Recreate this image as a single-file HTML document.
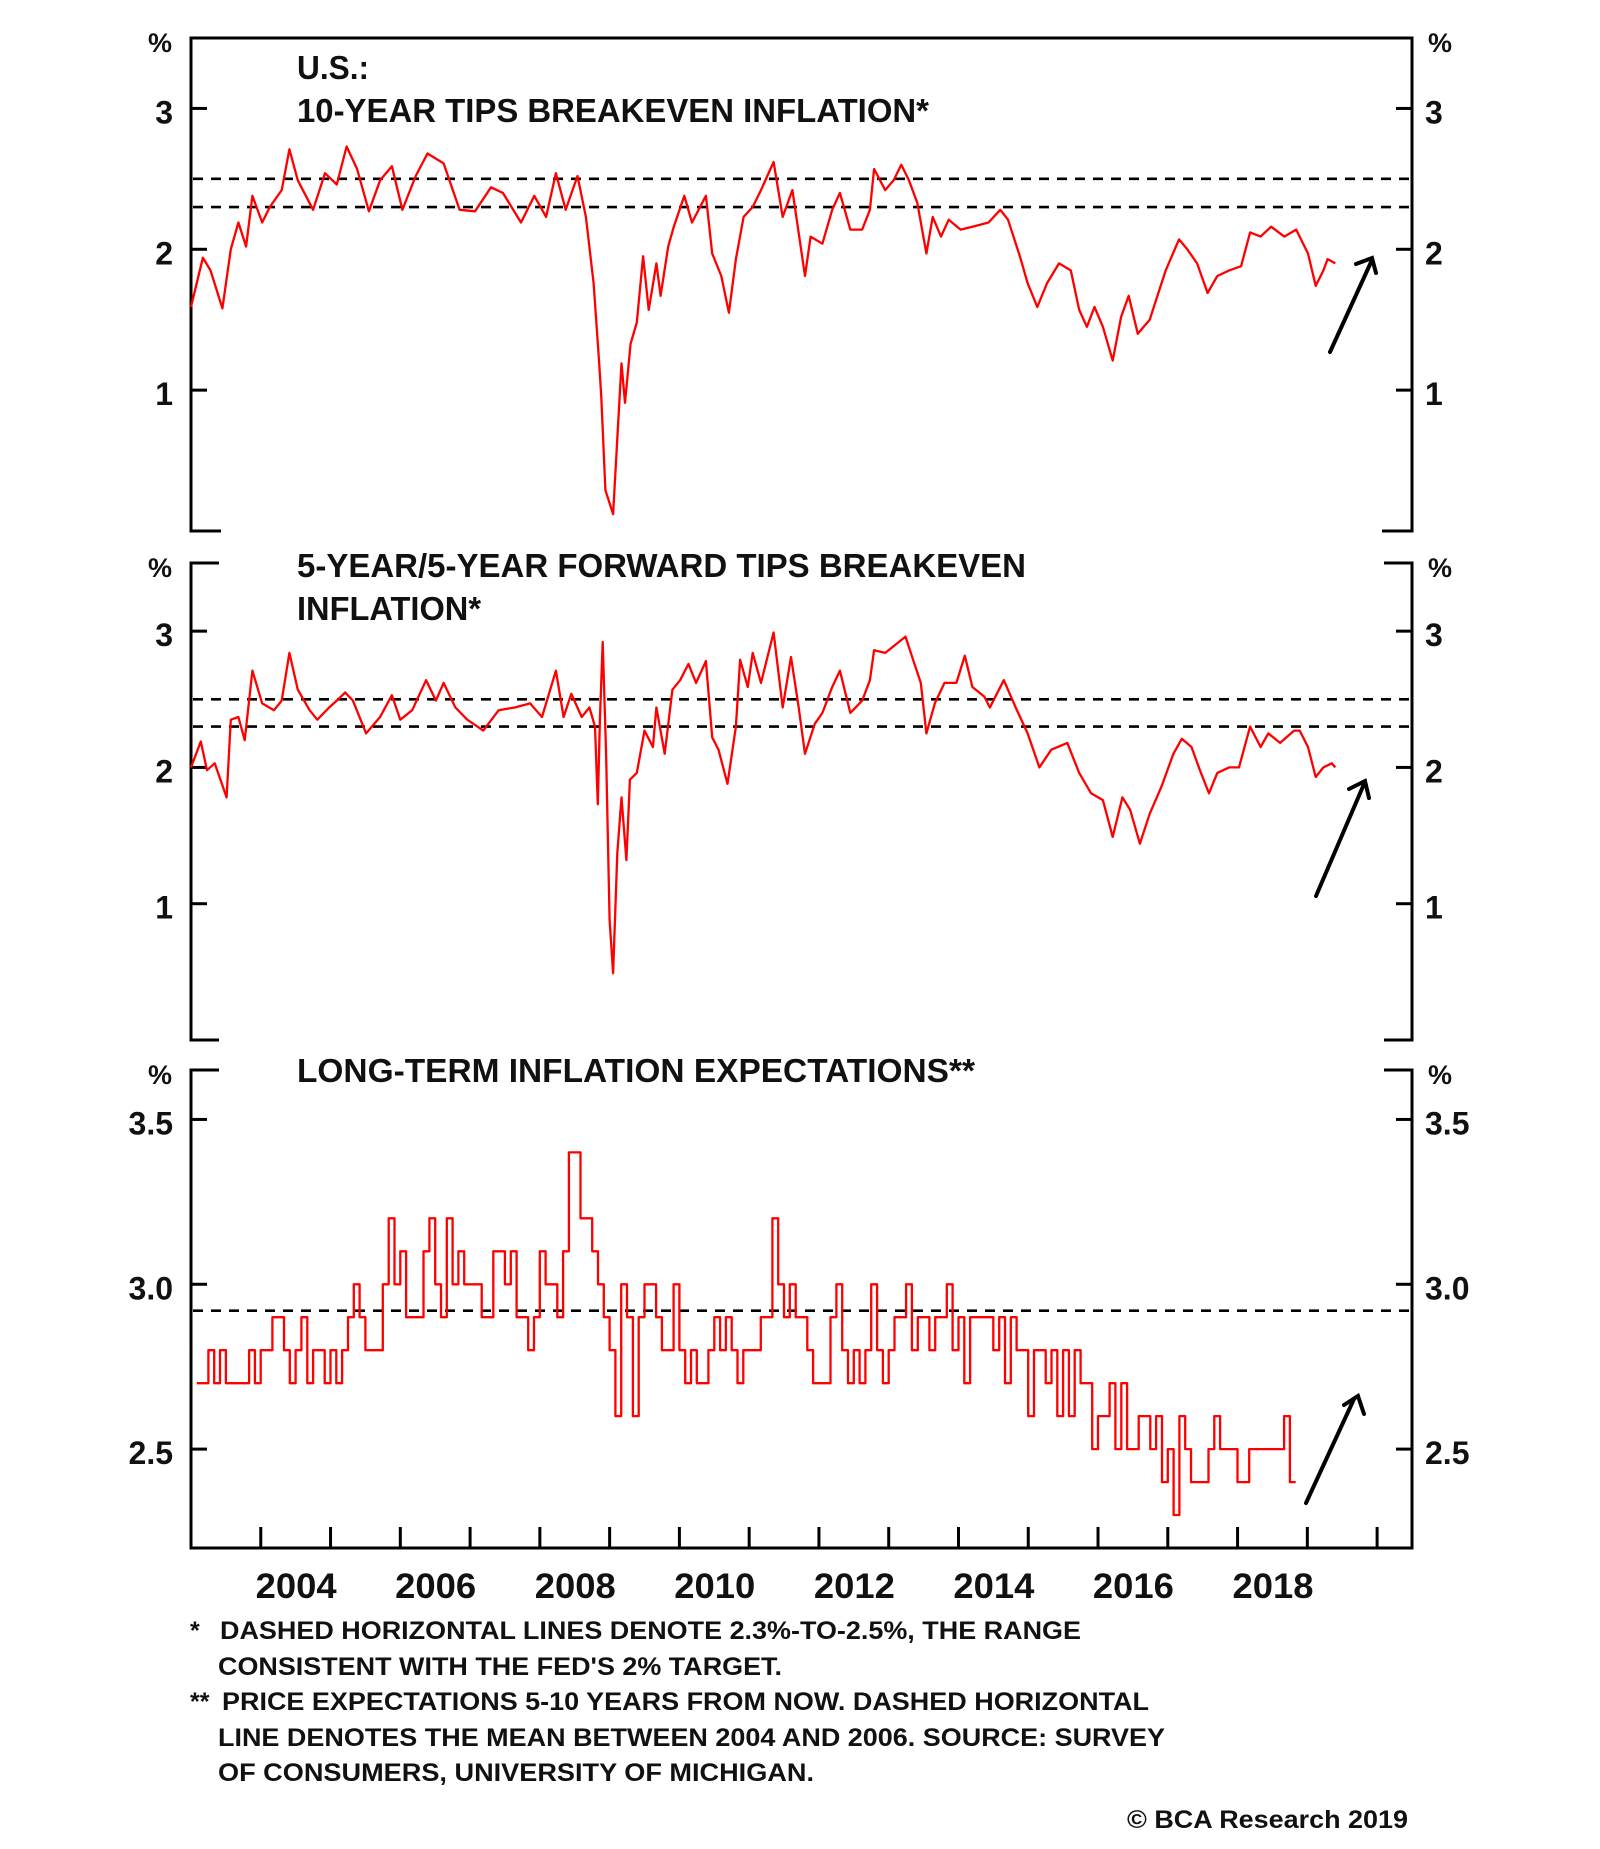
<!DOCTYPE html>
<html><head><meta charset="utf-8"><style>
html,body{margin:0;padding:0;background:#fff;}
svg{display:block;}
text{font-family:"Liberation Sans",Arial,sans-serif;font-weight:bold;fill:#111;}
</style></head>
<body>
<svg id="chart" width="1600" height="1849" viewBox="0 0 1600 1849" xmlns="http://www.w3.org/2000/svg">
<rect x="0" y="0" width="1600" height="1849" fill="#fff"/>
<g id="frames" stroke="#000" stroke-width="3" fill="none">
<path d="M221,531 H191 V38 H1412 V531 H1382"/>
<path d="M219,563 H191 V1040 H219 M1384,563 H1412 V1040 H1384"/>
<path d="M219,1070 H191 V1548 H1412 V1070 H1384"/>
</g>
<g id="ticks" stroke="#000" stroke-width="3"></g>
<g id="dashes" stroke="#000" stroke-width="2.6" stroke-dasharray="10 8"></g>
<g id="series" fill="none" stroke="#ff0000" stroke-width="2.3" stroke-linejoin="round"></g>
<g id="labels"></g>

<text x="297" y="79" font-size="33" textLength="72" lengthAdjust="spacingAndGlyphs">U.S.:</text>
<text x="297" y="122" font-size="33" textLength="632" lengthAdjust="spacingAndGlyphs">10-YEAR TIPS BREAKEVEN INFLATION*</text>
<text x="297" y="577" font-size="33" textLength="729" lengthAdjust="spacingAndGlyphs">5-YEAR/5-YEAR FORWARD TIPS BREAKEVEN</text>
<text x="297" y="620" font-size="33" textLength="184" lengthAdjust="spacingAndGlyphs">INFLATION*</text>
<text x="297" y="1082" font-size="33" textLength="678" lengthAdjust="spacingAndGlyphs">LONG-TERM INFLATION EXPECTATIONS**</text>

<g stroke="#000" stroke-width="4" fill="none" stroke-linecap="round">
<path d="M1330,352 L1372,260 M1356,264 L1372,258 L1376,273"/>
<path d="M1316,896 L1364,784 M1349,789 L1365,781 L1369,798"/>
<path d="M1306,1503 L1354,1399 M1344,1405 L1358,1396 L1364,1414"/>
</g>

<g font-size="25">
<text x="190" y="1639">*</text>
<text x="220" y="1639" textLength="861" lengthAdjust="spacingAndGlyphs">DASHED HORIZONTAL LINES DENOTE 2.3%-TO-2.5%, THE RANGE</text>
<text x="218" y="1675" textLength="564" lengthAdjust="spacingAndGlyphs">CONSISTENT WITH THE FED'S 2% TARGET.</text>
<text x="190" y="1710">**</text>
<text x="222" y="1710" textLength="927" lengthAdjust="spacingAndGlyphs">PRICE EXPECTATIONS 5-10 YEARS FROM NOW. DASHED HORIZONTAL</text>
<text x="218" y="1746" textLength="947" lengthAdjust="spacingAndGlyphs">LINE DENOTES THE MEAN BETWEEN 2004 AND 2006. SOURCE: SURVEY</text>
<text x="218" y="1781" textLength="596" lengthAdjust="spacingAndGlyphs">OF CONSUMERS, UNIVERSITY OF MICHIGAN.</text>
<text x="1127" y="1828" textLength="281" lengthAdjust="spacingAndGlyphs">© BCA Research 2019</text>
</g>
</svg>
<script>
const p1Dates=[2003.00,2003.17,2003.28,2003.45,2003.57,2003.68,2003.79,2003.88,2004.02,2004.13,2004.30,2004.41,2004.53,2004.75,2004.92,2005.09,2005.23,2005.38,2005.55,2005.71,2005.88,2006.03,2006.22,2006.39,2006.62,2006.85,2007.07,2007.30,2007.47,2007.73,2007.92,2008.09,2008.23,2008.37,2008.54,2008.66,2008.77,2008.85,2008.88,2008.94,2009.05,2009.17,2009.22,2009.30,2009.39,2009.48,2009.56,2009.67,2009.73,2009.84,2009.92,2010.07,2010.18,2010.38,2010.47,2010.60,2010.71,2010.81,2010.92,2011.05,2011.17,2011.35,2011.48,2011.62,2011.80,2011.88,2012.05,2012.19,2012.30,2012.45,2012.62,2012.73,2012.79,2012.95,2013.07,2013.18,2013.29,2013.41,2013.54,2013.63,2013.75,2013.86,2014.03,2014.20,2014.43,2014.60,2014.71,2014.88,2014.99,2015.13,2015.27,2015.44,2015.61,2015.73,2015.84,2015.95,2016.07,2016.21,2016.33,2016.44,2016.57,2016.74,2016.97,2017.16,2017.28,2017.42,2017.57,2017.71,2017.88,2018.05,2018.18,2018.33,2018.48,2018.67,2018.84,2019.01,2019.12,2019.23,2019.29,2019.40];
const p1Values=[1.59,1.94,1.85,1.58,2.00,2.19,2.02,2.38,2.19,2.30,2.42,2.71,2.49,2.28,2.54,2.46,2.73,2.57,2.27,2.49,2.59,2.28,2.52,2.68,2.61,2.28,2.27,2.44,2.40,2.19,2.38,2.23,2.54,2.28,2.52,2.23,1.76,1.19,0.95,0.29,0.12,1.19,0.91,1.33,1.48,1.95,1.57,1.90,1.67,2.02,2.16,2.38,2.19,2.38,1.97,1.81,1.55,1.93,2.23,2.30,2.42,2.62,2.23,2.42,1.81,2.09,2.04,2.28,2.40,2.14,2.14,2.28,2.57,2.42,2.49,2.60,2.49,2.33,1.97,2.23,2.09,2.21,2.14,2.16,2.19,2.28,2.21,1.95,1.76,1.59,1.76,1.90,1.85,1.57,1.45,1.59,1.45,1.21,1.52,1.67,1.40,1.50,1.85,2.07,2.00,1.90,1.69,1.81,1.85,1.88,2.12,2.09,2.16,2.09,2.14,1.97,1.74,1.85,1.93,1.90];
const p2Dates=[2003.00,2003.14,2003.23,2003.34,2003.51,2003.57,2003.68,2003.77,2003.88,2004.02,2004.19,2004.30,2004.41,2004.53,2004.70,2004.81,2004.98,2005.09,2005.21,2005.32,2005.51,2005.71,2005.88,2006.00,2006.17,2006.37,2006.51,2006.62,2006.79,2006.96,2007.19,2007.41,2007.64,2007.86,2008.03,2008.23,2008.34,2008.45,2008.60,2008.71,2008.79,2008.83,2008.86,2008.90,2008.95,2009.00,2009.05,2009.11,2009.17,2009.24,2009.29,2009.39,2009.50,2009.62,2009.67,2009.79,2009.90,2010.01,2010.13,2010.24,2010.38,2010.47,2010.56,2010.69,2010.81,2010.87,2010.98,2011.05,2011.17,2011.35,2011.48,2011.60,2011.71,2011.80,2011.94,2012.05,2012.19,2012.30,2012.45,2012.62,2012.73,2012.79,2012.95,2013.12,2013.24,2013.35,2013.46,2013.54,2013.66,2013.80,2013.97,2014.09,2014.20,2014.37,2014.45,2014.65,2014.82,2014.99,2015.16,2015.33,2015.56,2015.73,2015.90,2016.07,2016.21,2016.35,2016.46,2016.60,2016.74,2016.91,2017.08,2017.20,2017.34,2017.46,2017.59,2017.71,2017.88,2018.02,2018.18,2018.33,2018.44,2018.61,2018.81,2018.89,2019.01,2019.12,2019.23,2019.35,2019.40];
const p2Values=[2.00,2.19,1.98,2.03,1.78,2.35,2.37,2.20,2.71,2.47,2.42,2.49,2.84,2.57,2.42,2.35,2.44,2.49,2.55,2.49,2.25,2.37,2.53,2.35,2.42,2.64,2.49,2.62,2.44,2.35,2.27,2.42,2.44,2.47,2.37,2.71,2.37,2.54,2.37,2.44,2.30,1.73,2.35,2.92,2.10,0.88,0.49,1.37,1.78,1.32,1.91,1.96,2.27,2.15,2.44,2.10,2.57,2.64,2.76,2.62,2.78,2.22,2.13,1.88,2.30,2.79,2.59,2.84,2.62,2.99,2.44,2.81,2.44,2.10,2.32,2.40,2.59,2.71,2.40,2.49,2.64,2.86,2.84,2.91,2.96,2.79,2.62,2.25,2.47,2.62,2.62,2.82,2.59,2.52,2.44,2.64,2.44,2.25,2.00,2.13,2.18,1.96,1.81,1.76,1.49,1.78,1.69,1.44,1.66,1.86,2.10,2.21,2.15,1.98,1.81,1.96,2.00,2.00,2.30,2.15,2.25,2.18,2.27,2.27,2.15,1.93,2.00,2.03,2.00];
const p3Start=2003.083;
const p3Monthly=[2.7,2.7,2.8,2.7,2.8,2.7,2.7,2.7,2.7,2.8,2.7,2.8,
2.8,2.9,2.9,2.8,2.7,2.8,2.9,2.7,2.8,2.8,2.7,2.8,
2.7,2.8,2.9,3.0,2.9,2.8,2.8,2.8,3.0,3.2,3.0,3.1,
2.9,2.9,2.9,3.1,3.2,3.0,2.9,3.2,3.0,3.1,3.0,3.0,
3.0,2.9,2.9,3.1,3.1,3.0,3.1,2.9,2.9,2.8,2.9,3.1,
3.0,3.0,2.9,3.1,3.4,3.4,3.2,3.2,3.1,3.0,2.9,2.8,
2.6,3.0,2.9,2.6,2.9,3.0,3.0,2.9,2.8,2.8,3.0,2.8,
2.7,2.8,2.7,2.7,2.8,2.9,2.8,2.9,2.8,2.7,2.8,2.8,
2.8,2.9,2.9,3.2,3.0,2.9,3.0,2.9,2.9,2.8,2.7,2.7,
2.7,2.9,3.0,2.8,2.7,2.8,2.7,2.8,3.0,2.8,2.7,2.8,
2.9,2.9,3.0,2.8,2.9,2.9,2.8,2.9,2.9,3.0,2.8,2.9,
2.7,2.9,2.9,2.9,2.9,2.8,2.9,2.7,2.9,2.8,2.8,2.6,
2.8,2.8,2.7,2.8,2.6,2.8,2.6,2.8,2.7,2.7,2.5,2.6,
2.6,2.7,2.5,2.7,2.5,2.5,2.6,2.6,2.5,2.6,2.4,2.5,
2.3,2.6,2.5,2.4,2.4,2.4,2.5,2.6,2.5,2.5,2.5,2.4,
2.4,2.5,2.5,2.5,2.5,2.5,2.5,2.6,2.4];
const yTicks12=[1,2,3];
const yTicks3=[2.5,3.0,3.5];
const yTickText3=["2.5","3.0","3.5"];
const targetBand=[2.3,2.5];
const michiganMean=[2.92];
const yearTicks=[2004,2005,2006,2007,2008,2009,2010,2011,2012,2013,2014,2015,2016,2017,2018,2019,2020];
const yearLabels=[2004,2006,2008,2010,2012,2014,2016,2018];

const NS="http://www.w3.org/2000/svg";
const X0=191,X1=1412,T0=2003,T1=2020.5;
function xs(t){return X0+(t-T0)*(X1-X0)/(T1-T0);}
const panels=[
 {top:38,bottom:531,min:0,max:3.5},
 {top:563,bottom:1040,min:0,max:3.5},
 {top:1070,bottom:1548,min:2.2,max:3.65}];
function ys(p,v){return p.bottom-(v-p.min)/(p.max-p.min)*(p.bottom-p.top);}
function mk(tag,attrs,parent){const e=document.createElementNS(NS,tag);for(const k in attrs)e.setAttribute(k,attrs[k]);parent.appendChild(e);return e;}
const gT=document.getElementById('ticks'),gD=document.getElementById('dashes'),gS=document.getElementById('series'),gL=document.getElementById('labels');

function yAxis(pi,ticks,texts){
 const p=panels[pi];
 ticks.forEach((v,i)=>{
  const y=ys(p,v);
  const l=mk('line',{x1:X0,x2:X0+16,y1:y,y2:y},gT);
  
  
  const r=mk('line',{x1:X1-16,x2:X1,y1:y,y2:y},gT);
  
  
  const s=texts?texts[i]:String(v);
  const tl=mk('text',{x:173,y:y+15,'text-anchor':'end','font-size':32},gL);
  tl.textContent=s;
  
  
  const tr=mk('text',{x:1425,y:y+15,'font-size':32},gL);
  tr.textContent=s;
  
  
 });
 const pl=mk('text',{x:160,y:p.top+14,'text-anchor':'middle','font-size':27},gL);
 pl.textContent='%';
 
 
 const pr=mk('text',{x:1440,y:p.top+14,'text-anchor':'middle','font-size':27},gL);
 pr.textContent='%';
 
 
}
yAxis(0,yTicks12);yAxis(1,yTicks12);yAxis(2,yTicks3,yTickText3);

function hline(pi,v){
 const y=ys(panels[pi],v);
 const l=mk('line',{x1:X0+2,x2:X1-2,y1:y,y2:y},gD);
 
 
}
targetBand.forEach(v=>{hline(0,v);hline(1,v);});
michiganMean.forEach(v=>hline(2,v));

yearTicks.forEach(yr=>{
 const x=xs(yr);
 const l=mk('line',{x1:x,x2:x,y1:1548,y2:1527},gT);
 
 
});
yearLabels.forEach(yr=>{
 const t=mk('text',{x:xs(yr+0.5)-40,y:1598,'font-size':35,textLength:81,lengthAdjust:'spacingAndGlyphs'},gL);
 t.textContent=String(yr);
 
 
});

function line(pi,dates,vals,name){
 const p=panels[pi];
 const d=dates.map((t,i)=>(i?'L':'M')+xs(t).toFixed(1)+','+ys(p,vals[i]).toFixed(1)).join(' ');
 const e=mk('path',{d:d},gS);
 
 
}
line(0,p1Dates,p1Values,'tips-10y-breakeven-line');
line(1,p2Dates,p2Values,'tips-5y5y-forward-line');
(function(){
 const p=panels[2];let d='';
 p3Monthly.forEach((v,i)=>{
  const xa=xs(p3Start+i/12),xb=xs(p3Start+(i+1)/12),y=ys(p,v);
  d+=(i?'L':'M')+xa.toFixed(1)+','+y.toFixed(1)+' L'+xb.toFixed(1)+','+y.toFixed(1)+' ';
 });
 const e=mk('path',{d:d},gS);
 
 
})();
</script>
</body></html>
